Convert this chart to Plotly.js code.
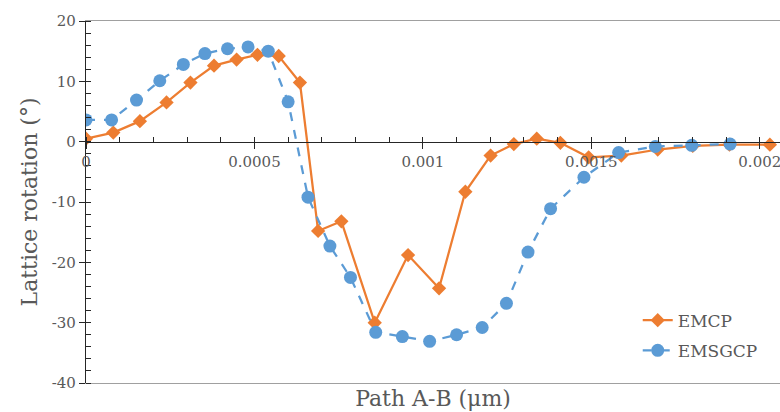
<!DOCTYPE html>
<html>
<head>
<meta charset="utf-8">
<script src="https://cdn.plot.ly/plotly-3.0.1.min.js"></script>
<style>html,body{margin:0;padding:0;background:#fff;}#chart{width:780px;height:412px;}</style>
</head>
<body>
<div id="chart"></div>
<script>
// Path A-B positions (µm) and lattice rotation (°)
const emcpX = [0, 0.000081, 0.00016, 0.000239, 0.00031, 0.00038, 0.000447, 0.000509, 0.000572, 0.000635,
  0.000689, 0.000758, 0.000857, 0.000956, 0.001048, 0.001126, 0.001201, 0.00127, 0.001338, 0.001408,
  0.001492, 0.001589, 0.001697, 0.001801, 0.00191, 0.00203];
const emcpY = [0.5, 1.5, 3.4, 6.5, 9.8, 12.6, 13.6, 14.4, 14.2, 9.8,
  -14.8, -13.2, -30.0, -18.8, -24.3, -8.3, -2.3, -0.4, 0.5, -0.2,
  -2.6, -2.3, -1.3, -0.7, -0.5, -0.5];
const emsgcpX = [0, 0.000076, 0.00015, 0.000219, 0.000289, 0.000353, 0.00042, 0.000481, 0.000541, 0.0006,
  0.000659, 0.000724, 0.000785, 0.00086, 0.000939, 0.00102, 0.0011, 0.001176, 0.001248, 0.001312,
  0.001379, 0.001478, 0.001581, 0.00169, 0.001798, 0.001912];
const emsgcpY = [3.6, 3.6, 6.9, 10.1, 12.8, 14.6, 15.4, 15.7, 15.0, 6.6,
  -9.2, -17.3, -22.5, -31.6, -32.3, -33.1, -32.0, -30.8, -26.8, -18.3,
  -11.1, -5.9, -1.8, -0.8, -0.6, -0.4];
const xTickVals = [0, 0.0005, 0.001, 0.0015, 0.002];
const xTickText = ["0", "0.0005", "0.001", "0.0015", "0.002"];
const yTickVals = [-40, -30, -20, -10, 0, 10, 20];
const yTickText = ["-40", "-30", "-20", "-10", "0", "10", "20"];
const seriesNames = ["EMCP", "EMSGCP"];

const FONT = "DejaVu Serif";
const GREY = "#595959";

const traces = [
  {
    x: emcpX, y: emcpY, name: seriesNames[0], type: "scatter", mode: "lines+markers",
    legendgroup: "a",
    line: {color: "#ED7D31", width: 2.25},
    marker: {symbol: "diamond", size: 11, color: "#ED7D31"}
  },
  {
    x: emsgcpX, y: emsgcpY, name: seriesNames[1], type: "scatter", mode: "lines+markers",
    legendgroup: "b",
    line: {color: "#5B9BD5", width: 2.25, dash: "dash"},
    marker: {symbol: "circle", size: 13, color: "#5B9BD5"}
  }
];

const xRange = [0, 0.00206];
const layout = {
  width: 780, height: 412,
  margin: {l: 86, r: 0, t: 21, b: 29},
  paper_bgcolor: "#fff", plot_bgcolor: "#fff",
  font: {family: FONT, color: GREY, size: 15},
  showlegend: true,
  legend: {
    x: 0.795, y: 0.222, xanchor: "left", yanchor: "top",
    font: {family: FONT, size: 17, color: GREY},
    bgcolor: "rgba(0,0,0,0)", tracegroupgap: 5
  },
  xaxis: {
    range: xRange, showline: true, linecolor: "#a0a0a0", linewidth: 1.2, mirror: true,
    showgrid: false, zeroline: false, showticklabels: false, ticks: "",
    title: {text: "Path A-B (μm)", font: {family: FONT, size: 22, color: GREY}, standoff: 7}
  },
  xaxis2: {
    overlaying: "x", anchor: "free", position: 40 / 60, side: "bottom",
    range: xRange, showline: true, linecolor: "#262626", linewidth: 1.2,
    showgrid: false, zeroline: false, ticklabeloverflow: "allow",
    tickmode: "array", tickvals: xTickVals, ticktext: xTickText,
    ticks: "outside", ticklen: 6, tickcolor: "#262626",
    minor: {ticks: "inside", ticklen: 5, dtick: 0.0001, tick0: 0, tickcolor: "#262626"},
    tickfont: {family: FONT, size: 15, color: GREY}
  },
  yaxis: {
    range: [-40, 20], showline: true, linecolor: "#262626", linewidth: 1.2,
    showgrid: false, zeroline: false,
    tickmode: "array", tickvals: yTickVals, ticktext: yTickText,
    ticks: "outside", ticklen: 6, tickcolor: "#262626",
    minor: {ticks: "inside", ticklen: 5, dtick: 2, tick0: 0, tickcolor: "#262626"},
    tickfont: {family: FONT, size: 15, color: GREY},
    title: {text: "Lattice rotation (°)", font: {family: FONT, size: 22, color: GREY}, standoff: 8}
  }
};

// invisible helper so the crossing axis (xaxis2) is drawn with the same range
traces.push({x: [xRange[0]], y: [0], xaxis: "x2", yaxis: "y", mode: "markers",
  marker: {opacity: 0}, showlegend: false, hoverinfo: "skip"});

Plotly.newPlot("chart", traces, layout, {displayModeBar: false, staticPlot: true});
</script>
</body>
</html>
